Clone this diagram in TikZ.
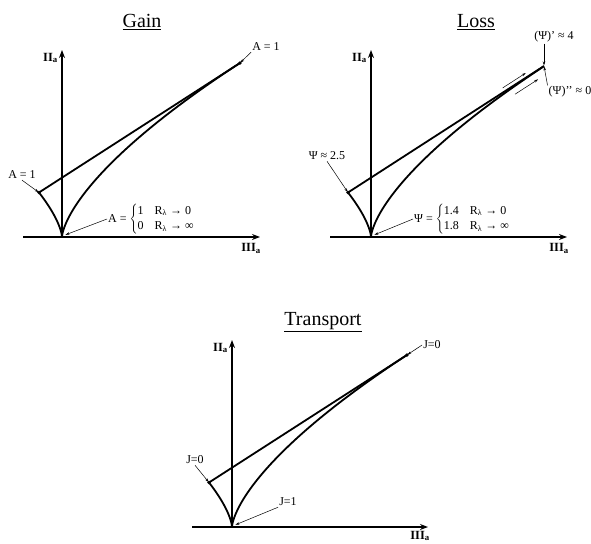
\documentclass[tikz,border=0pt]{standalone}
\usepackage{fontspec}
\setmainfont{Liberation Serif}
\usetikzlibrary{arrows.meta,calc}
\tikzset{
  >=Stealth,
  axis/.style={line width=1.6pt, -{Stealth[length=8pt,width=6pt]}},
  bnd/.style={line width=1.8pt, line join=round},
  lead/.style={line width=0.5pt, -{Stealth[length=4pt,width=2.5pt]}, shorten >=0.5pt},
  lbl/.style={font=\fontsize{12}{14}\selectfont, inner sep=1pt},
  axlbl/.style={font=\fontsize{12.5}{14}\selectfont\bfseries, inner sep=1pt},
  ttl/.style={font=\fontsize{20}{24}\selectfont}
}
\newcommand{\twocase}[4]{$\left\{\vcenter{\hbox{\rule{0pt}{29pt}}}\begin{tabular}{@{}l@{\hspace{11pt}}l@{}}#1 & R\textsubscript{λ} → #2\\[1.5pt] #3 & R\textsubscript{λ} → #4\end{tabular}\right.$}

\begin{document}
\begin{tikzpicture}[x=1pt, y=-1pt]
    \useasboundingbox (0,0) rectangle (591,543);

    % Gain
    \begin{scope}[shift={(62,237)}]
    \coordinate (gO) at (0,0);
    \coordinate (gxa) at (-39,0);
    \coordinate (gxb) at (198,0);
    \coordinate (gya) at (0,-187);
    \coordinate (gL) at (-23,-44.5);
    \coordinate (gR) at (178,-174);
    \coordinate (gC) at (3,-2);
    \draw[axis] (gxa) -- (gxb);
    \draw[axis] (gO) -- (gya);
    \draw[bnd] plot[domain=-2.844:5.625, samples=150] ({\x*\x*\x},{-5.5*\x*\x});
    \draw[bnd] (gL) -- (gR);
    \fill (gL) circle (1.8pt);
    \fill (gR) circle (1.8pt);
    \node[ttl] (gT) at (80,-215) {\underline{Gain}};
    \node[axlbl, anchor=east] (gII) at (-3,-179) {II\textsubscript{a}};
    \node[axlbl, anchor=north east] (gIII) at (200,5) {III\textsubscript{a}};
    \node[lbl] (gAr) at (204,-190) {A = 1};
    \node[lbl] (gAl) at (-40,-62) {A = 1};
    \node[lbl, anchor=west] (gAo) at (45,-18) {A = \twocase{1}{0}{0}{∞}};
    \draw[lead] (gAr.south west) -- (gR);
    \draw[lead] (gAl.south) -- (gL);
    \draw[lead] (gAo.west) -- (gC);
    \end{scope}

    % Loss
    \begin{scope}[shift={(371,237)}]
    \coordinate (lO) at (0,0);
    \coordinate (lxa) at (-41,0);
    \coordinate (lxb) at (196,0);
    \coordinate (lya) at (0,-187);
    \coordinate (lL) at (-23,-44.5);
    \coordinate (lR) at (173,-171);
    \coordinate (lC) at (3,-2);
    \draw[axis] (lxa) -- (lxb);
    \draw[axis] (lO) -- (lya);
    \draw[bnd] plot[domain=-2.844:5.572, samples=150] ({\x*\x*\x},{-5.5*\x*\x});
    \draw[bnd] (lL) -- (lR);
    \fill (lL) circle (1.8pt);
    \node[ttl] (lT) at (105,-215) {\underline{Loss}};
    \node[axlbl, anchor=east] (lII) at (-3,-179) {II\textsubscript{a}};
    \node[axlbl, anchor=north east] (lIII) at (199,5) {III\textsubscript{a}};
    \node[lbl] (lP1) at (183,-200) {(Ψ)' ≈ 4};
    \node[lbl] (lP2) at (199,-145) {(Ψ)'{}' ≈ 0};
    \node[lbl] (lPl) at (-44,-81) {Ψ ≈ 2.5};
    \node[lbl, anchor=west] (lPo) at (42,-18) {Ψ = \twocase{1.4}{0}{1.8}{∞}};
    \draw[lead] (lP1.south -| lR) -- (lR);
    \draw[lead] (lP2.north west) -- (lR);
    \draw[lead] (lPl.south) -- (lL);
    \draw[lead] (lPo.west) -- (lC);
    \coordinate (la1) at ($(lL)!0.80!(lR)!4pt!90:(lR)$);
    \coordinate (la2) at ($(lL)!0.92!(lR)!4pt!90:(lR)$);
    \coordinate (lb1) at ($(lL)!0.83!(lR)!8pt!-90:(lR)$);
    \coordinate (lb2) at ($(lL)!0.95!(lR)!8pt!-90:(lR)$);
    \draw[lead] (la1) -- (la2);
    \draw[lead] (lb1) -- (lb2);
    \end{scope}

    % Transport
    \begin{scope}[shift={(232,527)}]
    \coordinate (tO) at (0,0);
    \coordinate (txa) at (-40,0);
    \coordinate (txb) at (196,0);
    \coordinate (tya) at (0,-187);
    \coordinate (tL) at (-23,-44.5);
    \coordinate (tR) at (175,-172);
    \coordinate (tC) at (3,-2);
    \draw[axis] (txa) -- (txb);
    \draw[axis] (tO) -- (tya);
    \draw[bnd] plot[domain=-2.844:5.593, samples=150] ({\x*\x*\x},{-5.5*\x*\x});
    \draw[bnd] (tL) -- (tR);
    \fill (tL) circle (1.8pt);
    \fill (tR) circle (1.8pt);
    \node[ttl] (tT) at (91,-205) {\underline{Transport}};
    \node[axlbl, anchor=east] (tII) at (-3,-179) {II\textsubscript{a}};
    \node[axlbl, anchor=base east] (tIII) at (199,12) {III\textsubscript{a}};
    \node[lbl] (tJr) at (200,-182) {J=0};
    \node[lbl] (tJl) at (-37,-67) {J=0};
    \node[lbl] (tJo) at (56,-25) {J=1};
    \draw[lead] (tJr.west) -- (tR);
    \draw[lead] (tJl.south) -- (tL);
    \draw[lead] (tJo.south west) -- (tC);
    \end{scope}
\end{tikzpicture}
\end{document}
